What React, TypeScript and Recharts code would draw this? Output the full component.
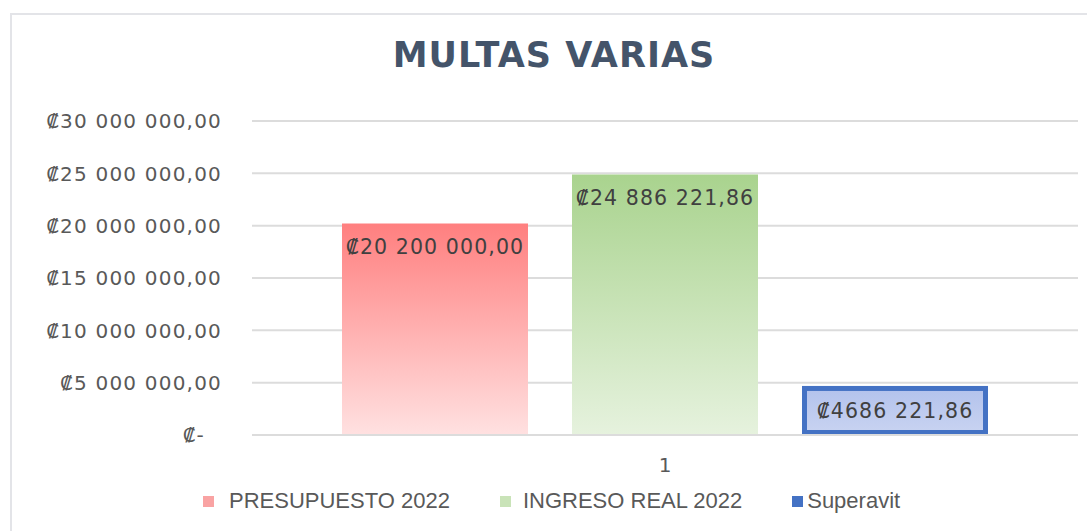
import React from "react";
import {
  BarChart,
  Bar,
  XAxis,
  YAxis,
  CartesianGrid,
  Legend,
  LabelList,
} from "recharts";

const categories = ["1"];
const presupuesto = [20200000];
const ingresoReal = [24886221.86];
const superavit = [4686221.86];
const presupuestoLabels = ["₡20 200 000,00"];
const ingresoLabels = ["₡24 886 221,86"];
const superavitLabels = ["₡4686 221,86"];
const yTicks = [0, 5000000, 10000000, 15000000, 20000000, 25000000, 30000000];
const yTickLabels = [
  "₡-",
  "₡5 000 000,00",
  "₡10 000 000,00",
  "₡15 000 000,00",
  "₡20 000 000,00",
  "₡25 000 000,00",
  "₡30 000 000,00",
];

const data = categories.map((c, i) => ({
  cat: c,
  presupuesto: presupuesto[i],
  ingreso: ingresoReal[i],
  superavit: superavit[i],
  presupuestoLabel: presupuestoLabels[i],
  ingresoLabel: ingresoLabels[i],
  superavitLabel: superavitLabels[i],
}));

const FONT = "'DejaVu Sans', sans-serif";
const LEGEND_FONT = "'Liberation Sans', Arial, sans-serif";
const TICK_COLOR = "#595959";
const LABEL_STYLE = {
  fill: "#404040",
  fontSize: 20.5,
  fontFamily: FONT,
  style: { letterSpacing: "1.1px" },
};

const legendItems = [
  { name: "PRESUPUESTO 2022", color: "#f9a3a3", gap: 15 },
  { name: "INGRESO REAL 2022", color: "#c9e3b8", gap: 12 },
  { name: "Superavit", color: "#4472c4", gap: 4 },
];

function YTick(props: any) {
  const { x, y, payload } = props;
  const idx = yTicks.indexOf(payload.value);
  const label = idx >= 0 ? yTickLabels[idx] : String(payload.value);
  const dx = payload.value === 0 ? -17 : 0;
  return (
    <text
      x={x + dx}
      y={y}
      dy="0.36em"
      textAnchor="end"
      fill={TICK_COLOR}
      fontSize={20}
      fontFamily={FONT}
      style={{ letterSpacing: "1.2px" }}
    >
      {label}
    </text>
  );
}

// border drawn inside the bar bounds, like Excel
function InsetBar(props: any) {
  const { x, y, width, height, fill } = props;
  const sw = 5;
  return (
    <rect
      x={x + sw / 2}
      y={y + sw / 2}
      width={Math.max(0, width - sw)}
      height={Math.max(0, height - sw)}
      fill={fill}
      stroke="#4472c4"
      strokeWidth={sw}
    />
  );
}

function LegendContent() {
  return (
    <div
      style={{
        display: "flex",
        justifyContent: "flex-start",
        paddingLeft: 203,
        height: 32,
        alignItems: "center",
        fontFamily: LEGEND_FONT,
        fontSize: 22,
        color: TICK_COLOR,
      }}
    >
      {legendItems.map((it, i) => (
        <div
          key={it.name}
          style={{ display: "flex", alignItems: "center", marginRight: i < 2 ? 50 : 0 }}
        >
          <span
            style={{
              width: 11,
              height: 11,
              background: it.color,
              display: "inline-block",
              marginRight: it.gap,
            }}
          />
          <span>{it.name}</span>
        </div>
      ))}
    </div>
  );
}

export default function App() {
  return (
    <div
      style={{
        position: "fixed",
        left: 0,
        top: 0,
        width: 1087,
        height: 531,
        background: "#ffffff",
        overflow: "hidden",
      }}
    >
      <div
        style={{
          position: "absolute",
          left: 10,
          top: 13,
          width: 1100,
          height: 560,
          border: "2px solid #e3e4e8",
          boxSizing: "border-box",
        }}
      />
      <div
        style={{
          position: "absolute",
          left: 0,
          width: 1087,
          top: 35,
          textAlign: "center",
          fontFamily: FONT,
          fontWeight: 700,
          fontSize: 35,
          letterSpacing: 1,
          color: "#44546a",
          paddingLeft: 21,
          boxSizing: "border-box",
        }}
      >
        MULTAS VARIAS
      </div>
      <div style={{ position: "absolute", left: 0, top: 0 }}>
        <BarChart
          width={1087}
          height={531}
          data={data}
          margin={{ top: 121, right: 9, left: 0, bottom: 14 }}
          barGap={44}
        >
          <defs>
            <linearGradient id="gRed" x1="0" y1="0" x2="0" y2="1">
              <stop offset="0%" stopColor="#ff7f7f" />
              <stop offset="100%" stopColor="#ffe1e1" />
            </linearGradient>
            <linearGradient id="gGreen" x1="0" y1="0" x2="0" y2="1">
              <stop offset="0%" stopColor="#a9d38e" />
              <stop offset="100%" stopColor="#e6f2de" />
            </linearGradient>
            <linearGradient id="gBlue" x1="0" y1="0" x2="0" y2="1">
              <stop offset="0%" stopColor="#b3c2ec" />
              <stop offset="100%" stopColor="#c8d3f1" />
            </linearGradient>
          </defs>
          <CartesianGrid vertical={false} stroke="#dcdcdc" strokeWidth={2} />
          <XAxis
            dataKey="cat"
            axisLine={{ stroke: "#dcdcdc", strokeWidth: 2 }}
            tickLine={false}
            tickSize={0}
            tickMargin={23}
            height={50}
            tick={{ fill: TICK_COLOR, fontSize: 20, fontFamily: FONT }}
          />
          <YAxis
            width={252}
            domain={[0, 30000000]}
            ticks={yTicks}
            axisLine={false}
            tickLine={false}
            tickSize={0}
            tickMargin={30}
            tick={<YTick />}
          />
          <Legend verticalAlign="bottom" content={<LegendContent />} />
          <Bar dataKey="presupuesto" fill="url(#gRed)" barSize={186} isAnimationActive={false}>
            <LabelList dataKey="presupuestoLabel" position="insideTop" offset={16} {...LABEL_STYLE} />
          </Bar>
          <Bar dataKey="ingreso" fill="url(#gGreen)" barSize={186} isAnimationActive={false}>
            <LabelList dataKey="ingresoLabel" position="insideTop" offset={16} {...LABEL_STYLE} />
          </Bar>
          <Bar
            dataKey="superavit"
            fill="url(#gBlue)"
            barSize={186}
            shape={<InsetBar />}
            isAnimationActive={false}
          >
            <LabelList dataKey="superavitLabel" position="center" {...LABEL_STYLE} />
          </Bar>
        </BarChart>
      </div>
    </div>
  );
}
